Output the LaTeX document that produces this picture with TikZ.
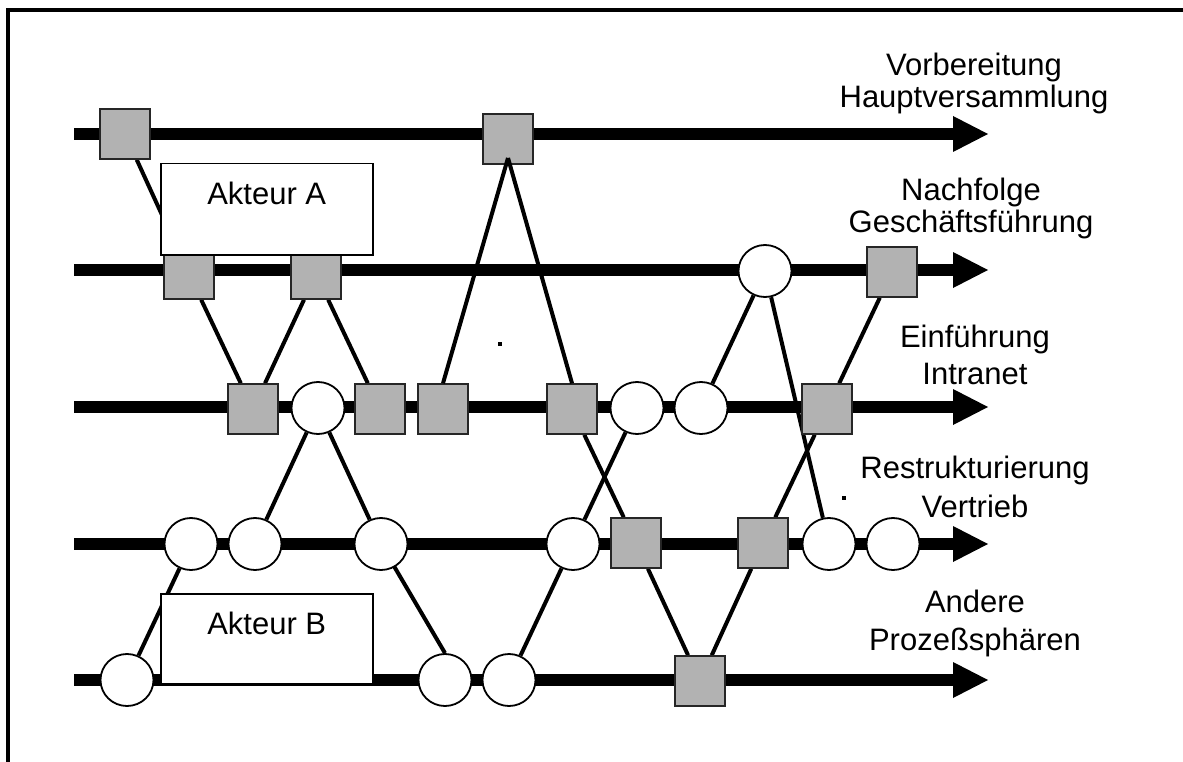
\documentclass[tikz,border=0pt]{standalone}
\usepackage{fontspec}
\setmainfont{Liberation Sans}
\usetikzlibrary{arrows.meta,shapes.geometric,calc}
\pgfdeclarelayer{background}
\pgfsetlayers{background,main}
\definecolor{taskgray}{RGB}{178,178,178}

\tikzset{
  timeline/.style={line width=12pt,
    -{Triangle[length=35pt,width=36pt,line width=0pt]}},
  link/.style={line width=4pt},
  tasknode/.style={rectangle, draw=black!85, line width=1.5pt, fill=taskgray,
    minimum width=50pt, minimum height=50pt, inner sep=0pt},
  evnode/.style={ellipse, draw=black, line width=1.8pt, fill=white,
    minimum width=53pt, minimum height=52pt, inner sep=0pt},
  actorbox/.style={rectangle, draw=black, line width=1.5pt, fill=white,
    anchor=north west, minimum width=212pt, inner xsep=0pt, inner ysep=0pt,
    text height=41pt, font=\fontsize{31}{36}\selectfont},
  sphere/.style={align=center, inner sep=0pt, font=\fontsize{31}{32}\selectfont},
}

\begin{document}
\begin{tikzpicture}[x=1pt,y=-1pt]
\useasboundingbox (0,0) rectangle (1183,762);

% frame
\draw[line width=4pt] (8,762) -- (8,10) -- (1183,10);

% row 1: Vorbereitung Hauptversammlung
\node[tasknode] (r1a) at (125,134) {};
\node[tasknode] (r1b) at (508,139) {};
% row 2: Nachfolge Geschaeftsfuehrung
\node[tasknode] (r2a) at (189,274) {};
\node[tasknode] (r2b) at (316,274) {};
\node[evnode]   (r2c) at (765,271) {};
\node[tasknode] (r2d) at (892,272) {};
% row 3: Einfuehrung Intranet
\node[tasknode] (r3a) at (253,409) {};
\node[evnode]   (r3b) at (318,408) {};
\node[tasknode] (r3c) at (380,409) {};
\node[tasknode] (r3d) at (443,409) {};
\node[tasknode] (r3e) at (572,409) {};
\node[evnode]   (r3f) at (637,408) {};
\node[evnode]   (r3g) at (701,408) {};
\node[tasknode] (r3h) at (827,409) {};
% row 4: Restrukturierung Vertrieb
\node[evnode]   (r4a) at (191,544) {};
\node[evnode]   (r4b) at (255,544) {};
\node[evnode]   (r4c) at (381,544) {};
\node[evnode]   (r4d) at (573,544) {};
\node[tasknode] (r4e) at (636,543) {};
\node[tasknode] (r4f) at (763,543) {};
\node[evnode]   (r4g) at (829,544) {};
\node[evnode]   (r4h) at (893,544) {};
% row 5: Andere Prozesssphaeren
\node[evnode]   (r5a) at (127,680) {};
\node[evnode]   (r5b) at (445,680) {};
\node[evnode]   (r5c) at (509,680) {};
\node[tasknode] (r5d) at (700,681) {};

% actors
\node[actorbox, text depth=50pt] (actA) at (160,163) {Akteur A};
\node[actorbox, text depth=49pt] (actB) at (160,593) {Akteur B};

% process labels
\node[sphere] (lab1) at (974,83)    {Vorbereitung\\Hauptversammlung};
\node[sphere] (lab2) at (971,208)   {Nachfolge\\Geschäftsführung};
\node[sphere] (lab3) at (975,354.5) {Einführung\\[5pt]Intranet};
\node[sphere] (lab4) at (975,486.5) {Restrukturierung\\[7pt]Vertrieb};
\node[sphere] (lab5) at (975,623)   {Andere\\[6pt]Prozeßsphären};

% links from the upper task, drawn over it
\draw[link] ($(r1b.center)+(0,19)$) -- (r3d.north);
\draw[link] ($(r1b.center)+(0,19)$) -- (r3e.north);

% stray marks
\fill (498,342) rectangle (502,346);
\fill (842,496) rectangle (846,500);

\begin{pgfonlayer}{background}
  % time lines
  \foreach \y in {134,270,407,544,680}
    \draw[timeline] (74,\y) -- (988,\y);
  % links between events and tasks
  \draw[link] (r1a) -- (r2a);
  \draw[link] (r2a) -- (r3a);
  \draw[link] (r2b) -- (r3a);
  \draw[link] (r2b) -- (r3c);
  \draw[link] (r3b) -- (r4b);
  \draw[link] (r3b) -- (r4c);
  \draw[link] (r4a) -- (r5a);
  \draw[link] (r4c.center) -- (r5b.north);
  \draw[link] (r3e) -- (r4e);
  \draw[link] (r3f) -- (r4d);
  \draw[link] (r4d) -- (r5c);
  \draw[link] (r4e) -- (r5d);
  \draw[link] (r5d) -- (r4f);
  \draw[link] (r4f) -- (r3h);
  \draw[link] (r3h) -- (r2d);
  \draw[link] (r2c) -- (r3g);
  \draw[link] (r2c) -- (r4g);
\end{pgfonlayer}
\end{tikzpicture}
\end{document}
